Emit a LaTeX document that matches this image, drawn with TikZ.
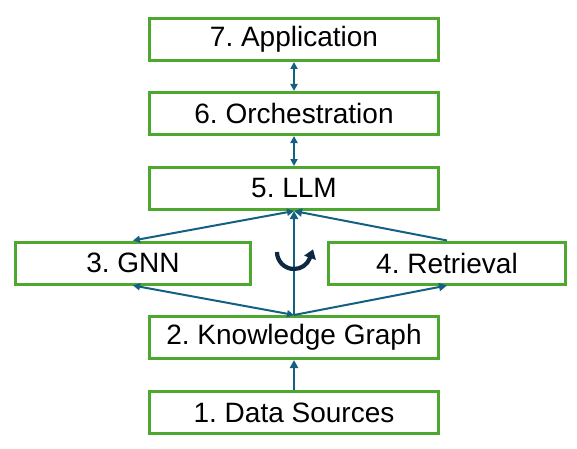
\documentclass[tikz,border=0pt]{standalone}
\usepackage{fontspec}
\setmainfont{Liberation Sans}
\usepackage{tikz}
\usetikzlibrary{arrows.meta}
\usepackage{xcolor}
\definecolor{lyrgreen}{HTML}{4EA72E}
\definecolor{lnkblue}{HTML}{156082}
\definecolor{cycnavy}{HTML}{0E2841}
\frenchspacing
\tikzset{
  lyr/.style={draw=lyrgreen, line width=3pt, fill=white, minimum height=42pt,
    inner sep=0pt, font=\fontsize{28}{30}\selectfont},
  lnk/.style={-{Triangle[length=8pt,width=8pt]}, line width=2pt, lnkblue},
  biln/.style={{Triangle[length=7pt,width=7pt]}-{Triangle[length=7pt,width=7pt]}, line width=2pt, lnkblue},
  cyc/.style={-{Triangle[length=9pt,width=12pt]}, line width=4.2pt, cycnavy},
}

\begin{document}
\begin{tikzpicture}[x=1pt,y=1pt]
  \useasboundingbox (0,0) rectangle (577,448);
  % layers of the stack
  \node[lyr, minimum width=289pt] (app)  at (294,408.5) {7. Application};
  \node[lyr, minimum width=289pt] (orch) at (294,334.5) {6. Orchestration};
  \node[lyr, minimum width=289pt] (llm)  at (294,259.5) {5. LLM};
  \node[lyr, minimum width=235pt] (gnn)  at (133,185)   {3. GNN};
  \node[lyr, minimum width=237pt] (retr) at (447,185)   {4. Retrieval};
  \node[lyr, minimum width=289pt] (kg)   at (294,110.5) {2. Knowledge Graph};
  \node[lyr, minimum width=289pt] (src)  at (294,35.5)  {1. Data Sources};
  % links between layers
  \draw[biln] (app) -- (orch);
  \draw[biln] (orch) -- (llm);
  \draw[lnk] (src) -- (kg);
  \draw[lnk] (kg.north) -- (llm.south);
  \draw[biln] (gnn.north) -- (llm.south);
  \draw[lnk] (retr.north) -- (llm.south);
  \draw[biln] (gnn.south) -- (kg.north);
  \draw[lnk] (kg.north) -- (retr.south);
  % loop between GNN and retrieval
  \draw[cyc] (277,196) arc[start angle=180,end angle=340,radius=17] -- ++(70:9);
\end{tikzpicture}
\end{document}
